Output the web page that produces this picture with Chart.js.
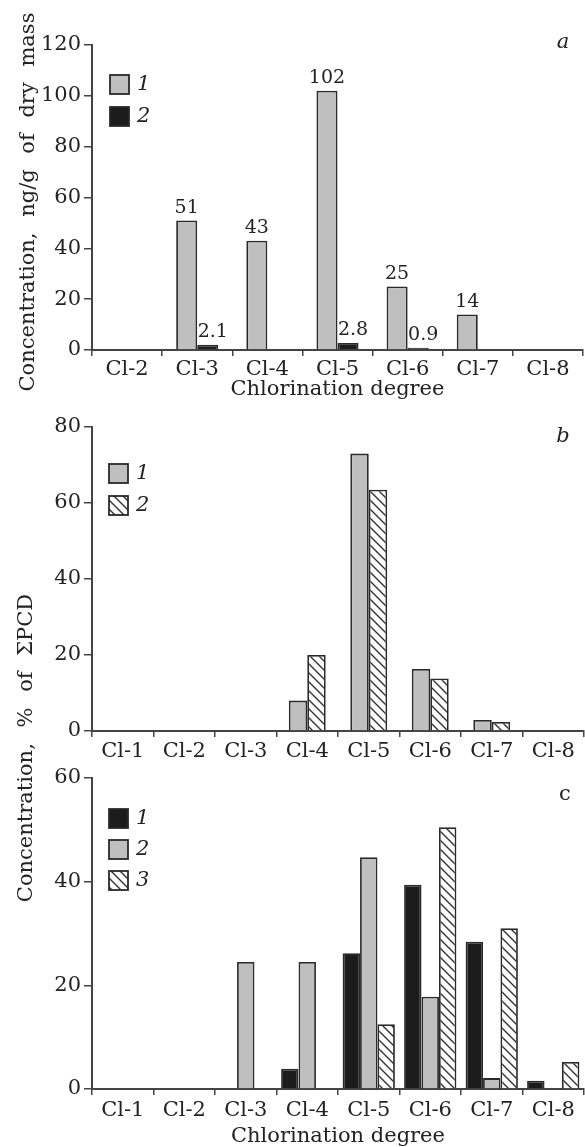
<!DOCTYPE html>
<html>
<head>
<meta charset="utf-8">
<script src="https://cdn.jsdelivr.net/npm/chart.js@4.4.0/dist/chart.umd.min.js"></script>
<style>
  html, body { margin: 0; padding: 0; background: #fff; }
  #page { position: relative; width: 585px; height: 1147px; overflow: hidden; }
  canvas { position: absolute; left: 0; }
  .ytitle {
    position: absolute; height: 24px; line-height: 24px;
    font-family: 'DejaVu Serif', serif; font-size: 21px; color: #232323;
    white-space: nowrap; text-align: center; word-spacing: 9px;
    transform: rotate(-90deg);
  }
</style>
</head>
<body>
<div id="page">
  <canvas id="chartA" width="585" height="400" style="top:0"></canvas>
  <canvas id="chartB" width="585" height="360" style="top:400px"></canvas>
  <canvas id="chartC" width="585" height="387" style="top:760px"></canvas>
  <div class="ytitle" style="width:400px; left:-173px; top:190px;">Concentration, ng/g of dry mass</div>
  <div class="ytitle" style="width:340px; left:-145px; top:736px;">Concentration, % of ΣPCD</div>
</div>
<script>
// Panel a: absolute concentrations
const categoriesA = ['Cl-2', 'Cl-3', 'Cl-4', 'Cl-5', 'Cl-6', 'Cl-7', 'Cl-8'];
const seriesA1 = [0, 51, 43, 102, 25, 14, 0];
const seriesA2 = [0, 2.1, 0, 2.8, 0.9, 0, 0];

// Panels b and c share the category axis
const categoriesBC = ['Cl-1', 'Cl-2', 'Cl-3', 'Cl-4', 'Cl-5', 'Cl-6', 'Cl-7', 'Cl-8'];
const seriesB1 = [0, 0, 0, 8, 73, 16.3, 2.9, 0];
const seriesB2 = [0, 0, 0, 20, 63.5, 13.8, 2.4, 0];
const seriesC1 = [0, 0, 0, 3.9, 26.2, 39.4, 28.4, 1.6];
const seriesC2 = [0, 0, 24.5, 24.5, 44.7, 17.8, 2.1, 0];
const seriesC3 = [0, 0, 0, 0, 12.5, 50.5, 31, 5.2];

// Axis ranges
const yMaxA = 120, yMaxB = 80, yMaxC = 60;
const yStep = 20;
const xTitle = 'Chlorination degree';

const textColor = '#232323';
const axisColor = '#444';
const grayFill = '#bfbfbf';
const blackFill = '#1c1c1c';
const fontFamily = "'DejaVu Serif', serif";

// Diagonal hatch used for the white striped bars
function makeHatch() {
  const size = 9;
  const c = document.createElement('canvas');
  c.width = size; c.height = size;
  const g = c.getContext('2d');
  g.fillStyle = '#fff';
  g.fillRect(0, 0, size, size);
  g.strokeStyle = '#333';
  g.lineWidth = 1.4;
  g.beginPath();
  g.moveTo(-1, -1); g.lineTo(size + 1, size + 1);
  g.moveTo(-1, size - 1); g.lineTo(1, size + 1);
  g.moveTo(size - 1, -1); g.lineTo(size + 1, 1);
  g.stroke();
  return g.createPattern(c, 'repeat');
}
const hatch = makeHatch();

// Legend drawn inside the plot, boxes stacked vertically
const boxLegend = {
  id: 'boxLegend',
  afterDraw(chart, args, opts) {
    const ctx = chart.ctx;
    ctx.save();
    chart.data.datasets.forEach((ds, i) => {
      const y = opts.y + i * opts.gap;
      ctx.fillStyle = ds.backgroundColor;
      ctx.fillRect(opts.x, y, 19, 19);
      ctx.lineWidth = 1.8;
      ctx.strokeStyle = '#2a2a2a';
      ctx.strokeRect(opts.x, y, 19, 19);
      ctx.fillStyle = textColor;
      ctx.font = 'italic 21px ' + fontFamily;
      ctx.textBaseline = 'middle';
      ctx.textAlign = 'left';
      ctx.fillText(ds.label, opts.x + 27, y + 10);
    });
    ctx.restore();
  }
};

// Panel letter in the top right corner
const panelLetter = {
  id: 'panelLetter',
  afterDraw(chart, args, opts) {
    const ctx = chart.ctx;
    ctx.save();
    ctx.fillStyle = textColor;
    ctx.font = (opts.italic ? 'italic ' : '') + '21px ' + fontFamily;
    ctx.textAlign = 'center';
    ctx.textBaseline = 'middle';
    ctx.fillText(opts.text, opts.x, opts.y);
    ctx.restore();
  }
};

// Numbers above the bars (panel a only)
const valueLabels = {
  id: 'valueLabels',
  afterDatasetsDraw(chart, args, opts) {
    const ctx = chart.ctx;
    ctx.save();
    ctx.fillStyle = textColor;
    ctx.font = '19px ' + fontFamily;
    ctx.textAlign = 'center';
    ctx.textBaseline = 'bottom';
    chart.data.datasets.forEach((ds, i) => {
      chart.getDatasetMeta(i).data.forEach((bar, j) => {
        const v = ds.data[j];
        if (v > 0) ctx.fillText(String(v), bar.x + (opts.dx[i] || 0), bar.y - 3);
      });
    });
    ctx.restore();
  }
};

function barSet(label, data, fill) {
  return {
    label: label,
    data: data,
    backgroundColor: fill,
    borderColor: '#2a2a2a',
    borderWidth: 1.8,
    barPercentage: 1.0
  };
}

function makeScales(yMax, yWidth, xHeight, showTitle, labelPad) {
  return {
    x: {
      offset: true,
      grid: { display: true, drawOnChartArea: false, tickLength: 6, color: axisColor, lineWidth: 1.5, offset: true },
      border: { display: true, color: axisColor, width: 2 },
      ticks: { color: textColor, font: { family: fontFamily, size: 21 }, padding: labelPad, maxRotation: 0, autoSkip: false },
      title: {
        display: showTitle, text: xTitle, color: textColor,
        font: { family: fontFamily, size: 21, lineHeight: 1.0 }, padding: 0
      },
      afterFit: s => { s.height = xHeight; }
    },
    y: {
      min: 0, max: yMax,
      ticks: { stepSize: yStep, color: textColor, font: { family: fontFamily, size: 21 }, padding: 3 },
      grid: { drawOnChartArea: false, tickLength: 8, color: axisColor, lineWidth: 1.5 },
      border: { display: true, color: axisColor, width: 2 },
      afterFit: s => { s.width = yWidth; }
    }
  };
}

function baseOptions(pad) {
  return {
    responsive: false,
    animation: false,
    layout: { padding: pad },
    plugins: { legend: { display: false }, tooltip: { enabled: false } }
  };
}

// Panel a
const optsA = baseOptions({ top: 45, right: 2, left: 0, bottom: 0 });
optsA.scales = makeScales(yMaxA, 92, 50, true, 1);
optsA.datasets = { bar: { categoryPercentage: 0.6 } };
optsA.plugins.boxLegend = { x: 110, y: 75, gap: 32 };
optsA.plugins.panelLetter = { text: 'a', x: 563, y: 43, italic: true };
optsA.plugins.valueLabels = { dx: [0, 5] };
new Chart(document.getElementById('chartA'), {
  type: 'bar',
  data: {
    labels: categoriesA,
    datasets: [barSet('1', seriesA1, grayFill), barSet('2', seriesA2, blackFill)]
  },
  options: optsA,
  plugins: [boxLegend, panelLetter, valueLabels]
});

// Panel b
const optsB = baseOptions({ top: 27, right: 1, left: 0, bottom: 0 });
optsB.scales = makeScales(yMaxB, 92, 29, false, 2);
optsB.datasets = { bar: { categoryPercentage: 0.6 } };
optsB.plugins.boxLegend = { x: 109, y: 64, gap: 32 };
optsB.plugins.panelLetter = { text: 'b', x: 563, y: 37, italic: true };
new Chart(document.getElementById('chartB'), {
  type: 'bar',
  data: {
    labels: categoriesBC,
    datasets: [barSet('1', seriesB1, grayFill), barSet('2', seriesB2, hatch)]
  },
  options: optsB,
  plugins: [boxLegend, panelLetter]
});

// Panel c
const optsC = baseOptions({ top: 18, right: 1, left: 0, bottom: 0 });
optsC.scales = makeScales(yMaxC, 92, 58, true, 3);
optsC.datasets = { bar: { categoryPercentage: 0.85 } };
optsC.plugins.boxLegend = { x: 109, y: 49, gap: 31 };
optsC.plugins.panelLetter = { text: 'c', x: 565, y: 35, italic: false };
new Chart(document.getElementById('chartC'), {
  type: 'bar',
  data: {
    labels: categoriesBC,
    datasets: [barSet('1', seriesC1, blackFill), barSet('2', seriesC2, grayFill), barSet('3', seriesC3, hatch)]
  },
  options: optsC,
  plugins: [boxLegend, panelLetter]
});
</script>
</body>
</html>
